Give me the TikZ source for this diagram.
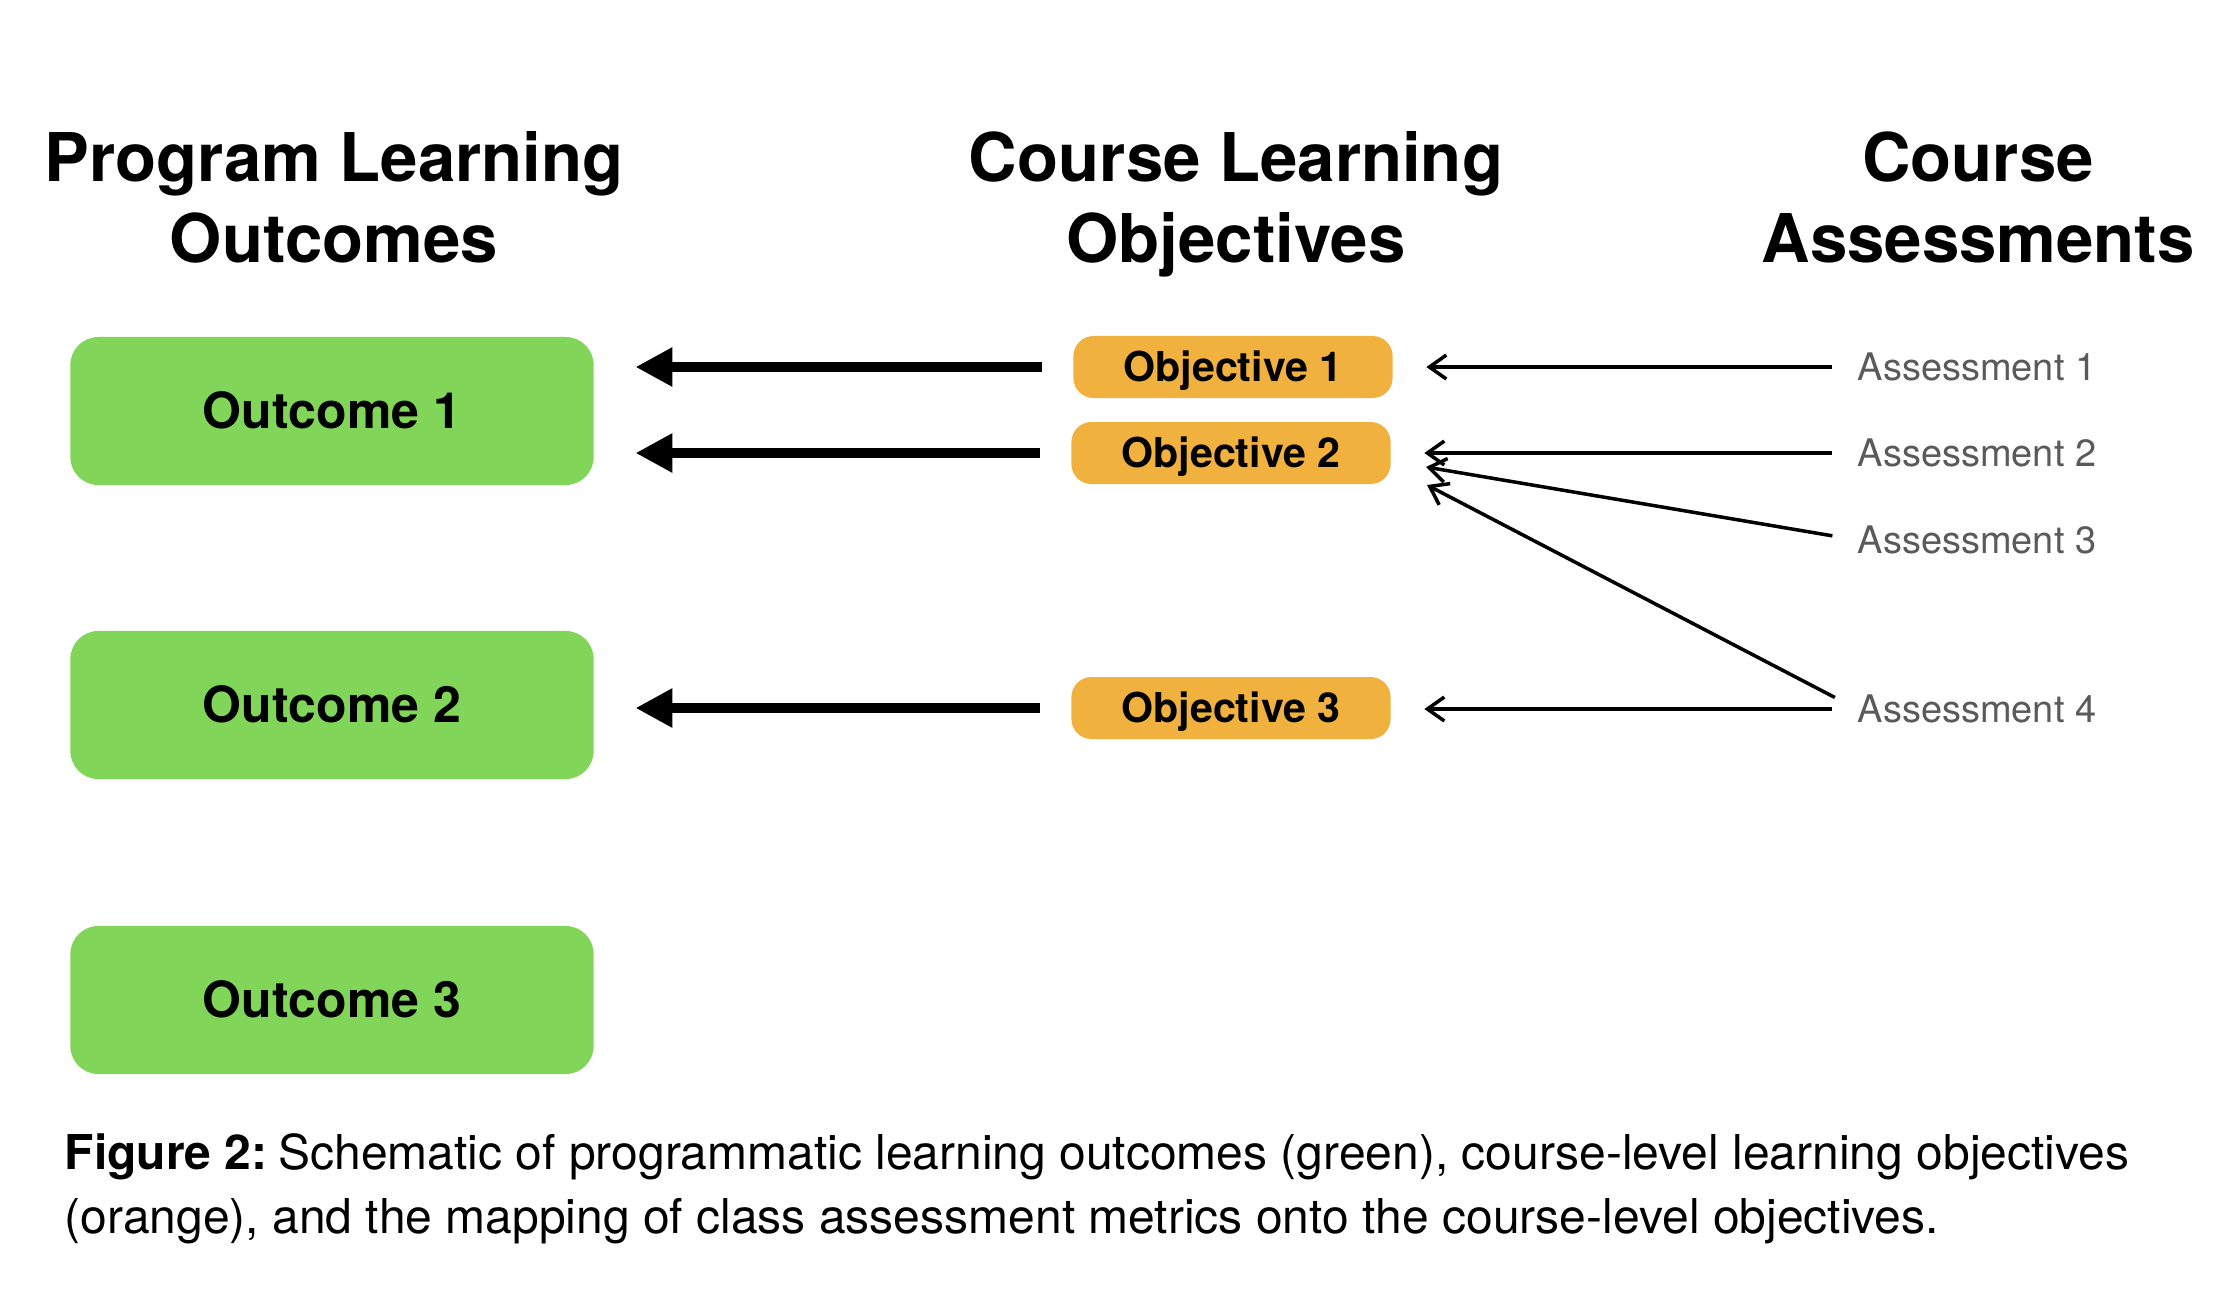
\documentclass[tikz,border=0pt]{standalone}
\usepackage{fontspec}
\setmainfont{TeX Gyre Heros}
\usetikzlibrary{arrows.meta}
\definecolor{outgreen}{HTML}{81D659}
\definecolor{objorange}{HTML}{F1B13F}
\definecolor{assgray}{HTML}{5A5A5A}
\begin{document}
\begin{tikzpicture}[x=0.01cm,y=-0.01cm,
  heading/.style={font=\fontsize{19.1}{23}\selectfont\bfseries, align=center, anchor=north, inner sep=0pt},
  outbox/.style={fill=outgreen, rounded corners=0.28cm, minimum width=5.23cm, minimum height=1.48cm, inner sep=0pt, text height=10.2pt, text depth=0pt, font=\bfseries\fontsize{14.2}{17}\selectfont},
  objbox/.style={fill=objorange, rounded corners=0.2cm, minimum width=3.19cm, minimum height=0.62cm, inner sep=0pt, text height=8.4pt, text depth=0pt, font=\bfseries\fontsize{11.7}{14}\selectfont},
  asslabel/.style={anchor=west, inner sep=0pt, text=assgray, font=\fontsize{10.8}{13}\selectfont},
  bigarrow/.style={line width=2.8pt, -{Triangle[length=10.5pt,width=10.5pt]}, shorten <=8.8pt, shorten >=11.7pt},
  thinarrow/.style={line width=1pt, -{Straight Barb[length=4.8pt,width=6.8pt]}, shorten <=7.1pt}
]
\useasboundingbox (0,0) rectangle (2228,1302);

% headings
\node[heading] (h1) at (334,131) {Program Learning\\Outcomes};
\node[heading] (h2) at (1236,131) {Course Learning\\Objectives};
\node[heading] (h3) at (1978,131) {Course\\Assessments};

% outcomes
\node[outbox] (o1) at (332,411) {Outcome 1};
\node[outbox] (o2) at (332,705) {Outcome 2};
\node[outbox] (o3) at (332,1000) {Outcome 3};

% objectives
\node[objbox] (b1) at (1233,367) {Objective 1};
\node[objbox] (b2) at (1231,453) {Objective 2};
\node[objbox] (b3) at (1231,708) {Objective 3};

% assessments
\node[asslabel] (a1) at (1857,367) {Assessment 1};
\node[asslabel] (a2) at (1857,453) {Assessment 2};
\node[asslabel] (a3) at (1857,540) {Assessment 3};
\node[asslabel] (a4) at (1857,709) {Assessment 4};

% big arrows
\draw[bigarrow] (b1.west) -- (b1.west -| o1.east);
\draw[bigarrow] (b2.west) -- (b2.west -| o1.east);
\draw[bigarrow] (b3.west) -- (b3.west -| o2.east);

% thin arrows
\coordinate (t3) at (1426,467);
\coordinate (t4) at (1427,485);
\draw[thinarrow, shorten >=9.4pt] (a1.west) -- (a1.west -| b1.east);
\draw[thinarrow, shorten >=9.4pt] (a2.west) -- (a2.west -| b2.east);
\draw[thinarrow] (a3.west) -- (t3);
\draw[thinarrow] (a4.west) -- (t4);
\draw[thinarrow, shorten >=9.4pt] (a4.west) -- (a4.west -| b3.east);

% caption
\node[anchor=north west, inner sep=0pt, align=left, font=\fontsize{13.65}{18.2}\selectfont] (cap) at (64,1133)
  {\textbf{Figure 2:}\hspace{-2pt} Schematic of programmatic learning outcomes (green), course-level learning objectives\\(orange), and the mapping of class assessment metrics onto the course-level objectives.};
\end{tikzpicture}
\end{document}
